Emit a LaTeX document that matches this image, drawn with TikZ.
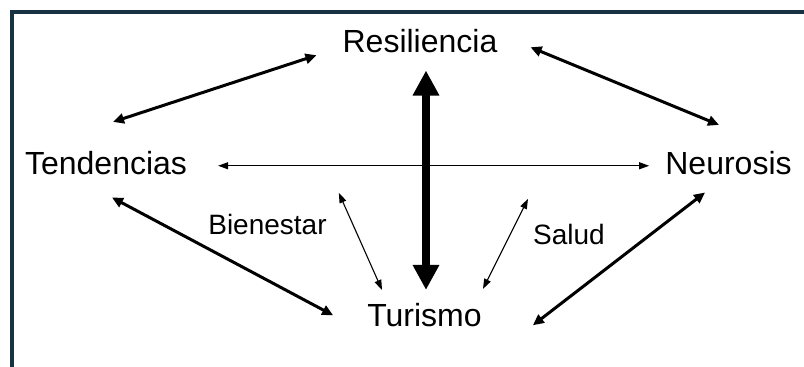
\documentclass[tikz,border=0pt]{standalone}
\usepackage{fontspec}
\setmainfont{Liberation Sans}
\usepackage{xcolor}
\usetikzlibrary{arrows.meta}
\definecolor{frameblue}{RGB}{23,50,66}

\begin{document}
\begin{tikzpicture}[x=1pt, y=1pt,
  concept/.style={inner sep=0pt, anchor=base, font=\fontsize{32}{38}\selectfont},
  aspect/.style={inner sep=0pt, anchor=base, font=\fontsize{28}{34}\selectfont},
  link/.style={line width=3pt, {Triangle[length=11pt,width=10pt]}-{Triangle[length=11pt,width=10pt]}},
  weak/.style={line width=1.1pt, {Triangle[length=10pt,width=7pt]}-{Triangle[length=10pt,width=7pt]}},
  core/.style={line width=8.5pt, {Triangle[length=25pt,width=25pt]}-{Triangle[length=25pt,width=25pt]}}
]
\useasboundingbox (0,0) rectangle (804,367);
\clip (0,0) rectangle (804,367);
\draw[frameblue, line width=4pt] (12,-20) -- (12,355) -- (830,355);

% concepts
\node[concept] (res)   at (420,314)   {Resiliencia};
\node[concept] (tend)  at (106,192)   {Tendencias};
\node[concept] (neur)  at (728.5,192) {Neurosis};
\node[concept] (tur)   at (424.5,40)  {Turismo};
\node[aspect]  (bien)  at (267.5,132) {Bienestar};
\node[aspect]  (salud) at (569,122)   {Salud};

% links
\draw[link] ([shift={(7,29.7)}]tend.north) -- ([shift={(-26,-13.7)}]res.west);
\draw[link] ([shift={(33,-5.7)}]res.east) -- ([shift={(-9.5,26.7)}]neur.north);
\draw[weak] ([shift={(31,-2.2)}]tend.east) -- ([shift={(-16,-2.2)}]neur.west);
\draw[core] ([shift={(6,-17)}]res.south) -- ([shift={(1.5,13.7)}]tur.north);
\draw[link] ([shift={(6,-22)}]tend.south) -- ([shift={(-34,0.3)}]tur.west);
\draw[link] ([shift={(-23.5,-17)}]neur.south) -- ([shift={(51,-9.7)}]tur.east);
\draw[weak] ([shift={(12,21.6)}]bien.north east) -- ([shift={(-42.5,13.7)}]tur.north);
\draw[weak] ([shift={(-5,25.6)}]salud.north west) -- ([shift={(58.5,14.7)}]tur.north);
\end{tikzpicture}
\end{document}
